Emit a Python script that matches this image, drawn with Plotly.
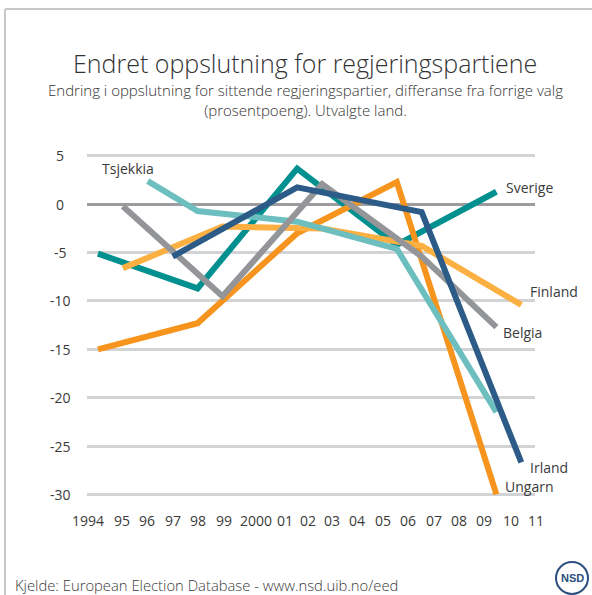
import plotly.graph_objects as go

# ---------------- data ----------------
sverige_years = [1994, 1998, 2002, 2006, 2010]
sverige_vals = [-5.1, -8.7, 3.7, -4.2, 1.3]

ungarn_years = [1994, 1998, 2002, 2006, 2010]
ungarn_vals = [-15.0, -12.3, -3.0, 2.3, -30.0]

finland_years = [1995, 1999, 2003, 2007, 2011]
finland_vals = [-6.6, -2.3, -2.5, -4.3, -10.4]

tsjekkia_years = [1996, 1998, 2002, 2006, 2010]
tsjekkia_vals = [2.4, -0.7, -1.8, -4.6, -21.5]

belgia_years = [1995, 1999, 2003, 2007, 2010]
belgia_vals = [-0.2, -9.5, 2.1, -5.4, -12.7]

irland_years = [1997, 2002, 2007, 2011]
irland_vals = [-5.4, 1.75, -0.8, -26.7]

y_ticks = [5, 0, -5, -10, -15, -20, -25, -30]
x_tick_labels = ["1994", "95", "96", "97", "98", "99", "2000", "01", "02", "03",
                 "04", "05", "06", "07", "08", "09", "10", "11"]
x_tick_pos = [1993.6, 1994.95, 1995.97, 1997.0, 1998.0, 1999.05, 2000.35, 2001.5,
              2002.43, 2003.4, 2004.4, 2005.45, 2006.45, 2007.5, 2008.5, 2009.5,
              2010.6, 2011.6]

title = "Endret oppslutning for regjeringspartiene"
subtitle = ("Endring i oppslutning for sittende regjeringspartier, differanse fra forrige valg"
            "<br>(prosentpoeng). Utvalgte land.")
source = "Kjelde: European Election Database - www.nsd.uib.no/eed"

# ---------------- layout geometry ----------------
W, H = 592, 595
L, R, T, B = 87, 57, 140, 90
PW, PH = W - L - R, H - T - B
XR = [1993.56, 2011.55]
YR = [-31.1, 6.65]


def px_x(p):
    return (p - L) / PW


def px_y(p):
    return (H - B - p) / PH


def year_to_paper(yr):
    return (yr - XR[0]) / (XR[1] - XR[0])


FONT = "Open Sans"
TXT = "#3a3a3a"

series = [
    ("Sverige", sverige_years, sverige_vals, "#00908F"),
    ("Ungarn", ungarn_years, ungarn_vals, "#F7941D"),
    ("Finland", finland_years, finland_vals, "#FDB042"),
    ("Tsjekkia", tsjekkia_years, tsjekkia_vals, "#6CBEBF"),
    ("Belgia", belgia_years, belgia_vals, "#939598"),
    ("Irland", irland_years, irland_vals, "#2C5B88"),
]

fig = go.Figure()
for name, xs, ys, col in series:
    fig.add_trace(go.Scatter(x=xs, y=ys, mode="lines", name=name,
                             line=dict(color=col, width=6), showlegend=False,
                             hoverinfo="skip"))

ann = []
label_pos = {
    "Tsjekkia": (1995.2, 3.7, "center"),
    "Sverige": (2010.3, 1.75, "left"),
    "Finland": (2011.27, -9.0, "left"),
    "Belgia": (2010.18, -13.3, "left"),
    "Irland": (2011.27, -27.2, "left"),
    "Ungarn": (2010.26, -29.2, "left"),
}
for name, (lx, ly, anc) in label_pos.items():
    ann.append(dict(x=lx, y=ly, xref="x", yref="y", text=name, showarrow=False,
                    xanchor=anc, yanchor="middle",
                    font=dict(family=FONT, size=14, color=TXT)))

for v in y_ticks:
    ann.append(dict(x=px_x(60), y=v, xref="paper", yref="y", text=str(v),
                    showarrow=False, xanchor="center", yanchor="middle",
                    font=dict(family=FONT, size=14, color=TXT)))
for lab, pos in zip(x_tick_labels, x_tick_pos):
    ann.append(dict(x=year_to_paper(pos), y=px_y(520), xref="paper", yref="paper",
                    text=lab, showarrow=False, xanchor="center", yanchor="middle",
                    font=dict(family=FONT, size=14, color=TXT)))

ann.append(dict(x=px_x(305), y=px_y(63), xref="paper", yref="paper", text=title,
                showarrow=False, xanchor="center", yanchor="middle", borderpad=0,
                font=dict(family=FONT, size=25, color="#333333", weight=300)))
ann.append(dict(x=px_x(305), y=px_y(100), xref="paper", yref="paper", text=subtitle,
                showarrow=False, xanchor="center", yanchor="middle", borderpad=0,
                font=dict(family=FONT, size=15, color="#333333", weight=300)))
ann.append(dict(x=px_x(13), y=px_y(585), xref="paper", yref="paper", text=source,
                showarrow=False, xanchor="left", yanchor="middle",
                font=dict(family=FONT, size=14.8, color=TXT, weight=300)))
ann.append(dict(x=px_x(572), y=px_y(578), xref="paper", yref="paper", text="<b>NSD</b>",
                showarrow=False, xanchor="center", yanchor="middle",
                font=dict(family="Liberation Sans", size=11, color="#2B4F7E")))

shapes = [
    dict(type="line", xref="paper", yref="paper", x0=px_x(5), x1=px_x(W + 5),
         y0=px_y(9), y1=px_y(9), line=dict(color="#c8c8c8", width=2), layer="below"),
    dict(type="line", xref="paper", yref="paper", x0=px_x(5), x1=px_x(5),
         y0=px_y(9), y1=px_y(H + 5), line=dict(color="#c8c8c8", width=2), layer="below"),
    dict(type="circle", xref="paper", yref="paper", x0=px_x(556), x1=px_x(588),
         y0=px_y(594), y1=px_y(562), line=dict(color="#2B4F7E", width=2)),
]

fig.update_layout(
    width=W, height=H,
    margin=dict(l=L, r=R, t=T, b=B, pad=0),
    paper_bgcolor="white", plot_bgcolor="white",
    xaxis=dict(range=XR, showgrid=False, zeroline=False, showticklabels=False,
               showline=False, fixedrange=True),
    yaxis=dict(range=YR, tickvals=y_ticks, showticklabels=False, showgrid=True,
               gridcolor="#d2d3d5", gridwidth=3, zeroline=True,
               zerolinecolor="#9c9c9e", zerolinewidth=3, showline=False,
               fixedrange=True),
    annotations=ann, shapes=shapes,
    showlegend=False,
)

fig.write_html("out.html", config={"displayModeBar": False},
               post_script="document.body.style.margin='0';document.body.style.overflow='hidden';")
